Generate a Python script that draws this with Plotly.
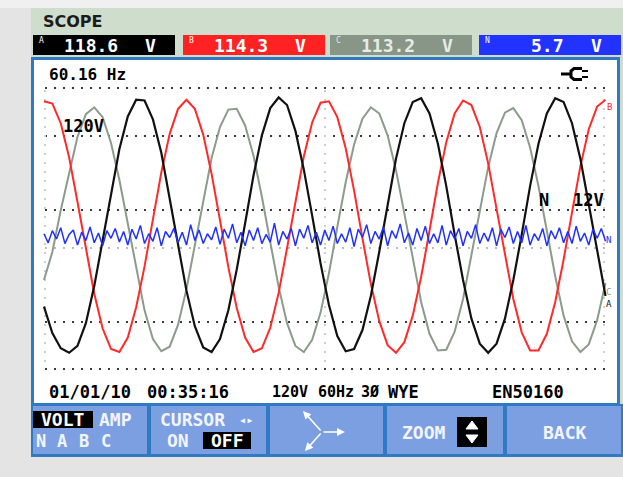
import plotly.graph_objects as go

W, H = 623, 477

# ---------------- data (volts) ----------------
SAMPLE_MS = 1.0  # phase traces sampled every 1 ms
phase_a_volts = [-105, -140, -160, -166, -157, -127, -78, -18, 45, 103,
                 146, 168, 167, 142, 98, 39, -25, -84, -131, -159,
                 -165, -148, -110, -56, 5, 68, 121, 157, 171, 161,
                 127, 76, 15, -48, -103, -144, -164, -161, -136, -91,
                 -33, 30, 90, 137, 165, 170, 150, 110, 54, -10,
                 -70, -121, -154, -166, -154, -121, -70, -10, 54, 110,
                 150, 170, 165, 137, 90, 30, -33, -91]
phase_b_volts = [166, 163, 137, 92, 33, -30, -88, -134, -161, -165,
                 -146, -106, -52, 10, 72, 123, 156, 168, 156, 122,
                 70, 9, -53, -107, -146, -165, -160, -133, -87, -28,
                 34, 93, 138, 164, 166, 145, 104, 48, -15, -75,
                 -124, -156, -166, -152, -117, -66, -5, 58, 112, 150,
                 167, 161, 132, 84, 24, -38, -95, -139, -163, -163,
                 -141, -99, -43, 19, 80, 129, 159, 168]
phase_c_volts = [-70, -33, 22, 72, 119, 149, 158, 145, 111, 62,
                 4, -57, -110, -148, -164, -158, -129, -82, -23, 37,
                 91, 132, 155, 156, 134, 94, 40, -20, -79, -127,
                 -157, -165, -149, -113, -61, 0, 59, 109, 143, 158,
                 150, 121, 75, 18, -43, -99, -141, -163, -162, -138,
                 -95, -38, 23, 79, 124, 151, 157, 141, 105, 54,
                 -5, -65, -117, -151, -165, -155, -123, -74]
NEUTRAL_SAMPLE_MS = 0.5
neutral_volts = [3, -9, 7, -4, 11, -10, 2, 8, -12, 5, -6, 12, -9, 4, -13,
                 7, -3, 10, -8, 6, -12, 9, -4, 14, -10, 3, -7, 11, -13, 6,
                 -2, 10, -9, 5, -12, 15, -6, 8, -10, 3, -5, 12, -11, 9, -3,
                 16, -9, 5, -13, 8, -6, 11, -10, 2, -8, 17, -12, 6, -4, 10,
                 -13, 9, -3, 14, -9, 5, -12, 8, -6, 13, -10, 3, -8, 11, -14,
                 9, -2, 15, -10, 6, -4, 12, -13, 7, -3, 16, -9, 4, -12, 10,
                 -6, 13, -10, 3, -9, 14, -12, 7, -4, 10, -13, 6, -3, 15, -10,
                 4, -7, 11, -13, 9, -2, 12, -10, 6, -9, 14, -12, 3, -6, 10,
                 -13, 7, -4, 11, -9, 6, -10, 13, -7, 4, -12, 9, -3, 10, -7]

channel_names = ["A", "B", "C", "N"]
channel_rms = ["118.6", "114.3", "113.2", "5.7"]
channel_unit = "V"
frequency_label = "60.16 Hz"
status_texts = ["01/01/10", "00:35:16", "120V", "60Hz", "3Ø", "WYE", "EN50160"]

# ---------------- styling ----------------
COL_A, COL_B, COL_C, COL_N = "#111111", "#ff2a2a", "#8c9b8b", "#2030ff"
badge_fill = ["#000000", "#ff2222", "#879686", "#2233ff"]
badge_text = ["#ffffff", "#ffffff", "#e6ece6", "#ffffff"]
HEADER = "#cfdecc"
FRAME = "#2f7ac2"
BUTTON = "#7c9fe2"
MONO = "DejaVu Sans Mono"


def X(px):
    return px / W


def Y(py):
    return 1 - py / H


t_abc = [i * SAMPLE_MS for i in range(len(phase_a_volts))]
t_n = [i * NEUTRAL_SAMPLE_MS for i in range(len(neutral_volts))]

fig = go.Figure()
fig.add_trace(go.Scatter(x=t_abc, y=phase_c_volts, mode="lines",
                         line=dict(color=COL_C, width=2), hoverinfo="skip"))
fig.add_trace(go.Scatter(x=t_abc, y=phase_b_volts, mode="lines",
                         line=dict(color=COL_B, width=2), hoverinfo="skip"))
fig.add_trace(go.Scatter(x=t_abc, y=phase_a_volts, mode="lines",
                         line=dict(color=COL_A, width=2.2), hoverinfo="skip"))
fig.add_trace(go.Scatter(x=t_n, y=neutral_volts, yaxis="y2", mode="lines",
                         line=dict(color=COL_N, width=1.5), hoverinfo="skip"))

shapes = []


def rect(x0, y0, x1, y1, fill, line_color=None, lw=0):
    shapes.append(dict(type="rect", xref="paper", yref="paper", layer="below",
                       x0=X(x0), x1=X(x1), y0=Y(y1), y1=Y(y0), fillcolor=fill,
                       line=dict(width=lw, color=line_color or fill)))


def hline(y, x0, x1, color, dash="2px,7px", width=2, layer="below"):
    shapes.append(dict(type="line", xref="paper", yref="paper", layer=layer,
                       x0=X(x0), x1=X(x1), y0=Y(y), y1=Y(y),
                       line=dict(color=color, width=width, dash=dash)))


def vline(x, y0, y1, color, dash="2px,7px", width=2, layer="below"):
    shapes.append(dict(type="line", xref="paper", yref="paper", layer=layer,
                       x0=X(x), x1=X(x), y0=Y(y0), y1=Y(y1),
                       line=dict(color=color, width=width, dash=dash)))


def path(d_pts, color, width=2, fill=None, close=False, layer="above"):
    d = "M " + " L ".join(f"{X(a):.5f},{Y(b):.5f}" for a, b in d_pts)
    if close:
        d += " Z"
    shapes.append(dict(type="path", xref="paper", yref="paper", layer=layer, path=d,
                       line=dict(color=color, width=width),
                       fillcolor=fill if fill else "rgba(0,0,0,0)"))


# background pieces
rect(0, 0, W, 8, "#f0f0f0")
rect(31, 8, W, 457, HEADER)
# channel badges
badge_x0 = [33, 183, 330, 479]
for i, x0 in enumerate(badge_x0):
    rect(x0, 35, x0 + 142, 55, badge_fill[i])
# plot frame and white screen
rect(31, 57, 620, 406, FRAME)
rect(34, 60, 617, 403, "#ffffff")
# grid
for gy in [88, 136, 210, 322, 369]:
    hline(gy, 45, 606, "#3a3a3a")
hline(248, 45, 606, "#b9bdb9")
for gx in [45, 325, 604]:
    vline(gx, 90, 368, "#c9d2c9")
# buttons
rect(31, 404, W, 457, FRAME)
for bx0, bx1 in [(33, 147), (151, 266), (270, 383), (387, 503), (507, 621)]:
    rect(bx0, 406, bx1, 454, BUTTON)
rect(33, 411, 93, 428, "#000000")
rect(203, 432, 251, 449, "#000000")
rect(457, 417, 487, 447, "#000000")
path([(466, 429), (472, 421), (478, 429)], "#ffffff", width=1, fill="#ffffff", close=True)
path([(466, 435), (478, 435), (472, 443)], "#ffffff", width=1, fill="#ffffff", close=True)
# plug icon
path([(561, 74), (570, 74)], "#000000", width=3)
path([(582, 68.5), (574, 68.5), (571, 71), (571, 77), (574, 79.5), (582, 79.5)], "#000000", width=3)
path([(582, 71), (588, 71)], "#000000", width=2)
path([(582, 77), (588, 77)], "#000000", width=2)

annotations = []


def text(s, x, y, size, color="#000000", anchor="left", bold=True, family=MONO):
    annotations.append(dict(text=f"<b>{s}</b>" if bold else s, x=X(x), y=Y(y),
                            xref="paper", yref="paper", showarrow=False,
                            xanchor=anchor, yanchor="middle",
                            font=dict(family=family, size=size, color=color)))


text("SCOPE", 41, 21.5, 16, "#1c1c1c", family="DejaVu Sans")
for i, x0 in enumerate(badge_x0):
    text(channel_names[i], x0 + 8, 40, 8, badge_text[i], anchor="center", bold=False)
    text(channel_rms[i], x0 + 87, 45.5, 18, badge_text[i], anchor="right")
    text(channel_unit, x0 + 117, 45.5, 18, badge_text[i], anchor="center")
text(frequency_label, 47, 74.5, 16)
text("120V", 61, 126, 17)
text("N", 544, 200, 17, anchor="center")
text("12V", 571, 200, 17)
# trace end labels
text("B", 609, 107, 9, COL_B, anchor="center", bold=False)
text("N", 608, 240, 9, COL_N, anchor="center", bold=False)
text("C", 608, 292, 9, COL_C, anchor="center", bold=False)
text("A", 609, 304, 9, COL_A, anchor="center", bold=False)
# status line
for s, sx, fs in zip(status_texts, [47, 145, 270, 316, 359, 386, 490],
                     [17, 17, 15, 15, 15, 17, 17]):
    text(s, sx, 392, fs)
# button labels
BT = "#f2f5ff"
text("VOLT", 63, 419.5, 18, "#ffffff", anchor="center")
text("AMP", 97, 419.5, 18, BT)
for lab, cx in zip(["N", "A", "B", "C"], [41, 62, 84, 106]):
    text(lab, cx, 440.5, 17, BT, anchor="center")
text("CURSOR", 158, 419.5, 18, BT)
text("◂▸", 246, 419.5, 12, BT, anchor="center")
text("ON", 178, 440.5, 18, BT, anchor="center")
text("OFF", 227, 440.5, 18, "#ffffff", anchor="center")
text("ZOOM", 400, 432, 18, BT)
text("BACK", 565, 432, 18, BT, anchor="center")
# three-phase arrow symbol
for tipx, tipy, ax, ay in [(303, 411, 19, 21), (345, 432, -23, 0), (305, 451, 17, -19)]:
    annotations.append(dict(text="", x=X(tipx), y=Y(tipy), xref="paper", yref="paper",
                            showarrow=True, ax=ax, ay=ay, arrowhead=2, arrowsize=1,
                            arrowwidth=1.6, arrowcolor="#ffffff"))

fig.update_layout(
    width=W, height=H, margin=dict(l=0, r=0, t=0, b=0, pad=0),
    paper_bgcolor="#e4e4e4", plot_bgcolor="rgba(0,0,0,0)", showlegend=False,
    xaxis=dict(domain=[X(34), X(617)], range=[-1.19, 68.37], visible=False,
               showgrid=False, zeroline=False, fixedrange=True),
    yaxis=dict(domain=[Y(403), Y(60)], range=[-232.32, 220.44], visible=False,
               showgrid=False, zeroline=False, fixedrange=True),
    yaxis2=dict(overlaying="y", anchor="x", range=[-220.44, 232.32], visible=False,
                showgrid=False, zeroline=False, fixedrange=True),
    shapes=shapes, annotations=annotations,
)
fig.write_html("out.html", config={"displayModeBar": False},
               post_script="document.body.style.margin='0px';")
